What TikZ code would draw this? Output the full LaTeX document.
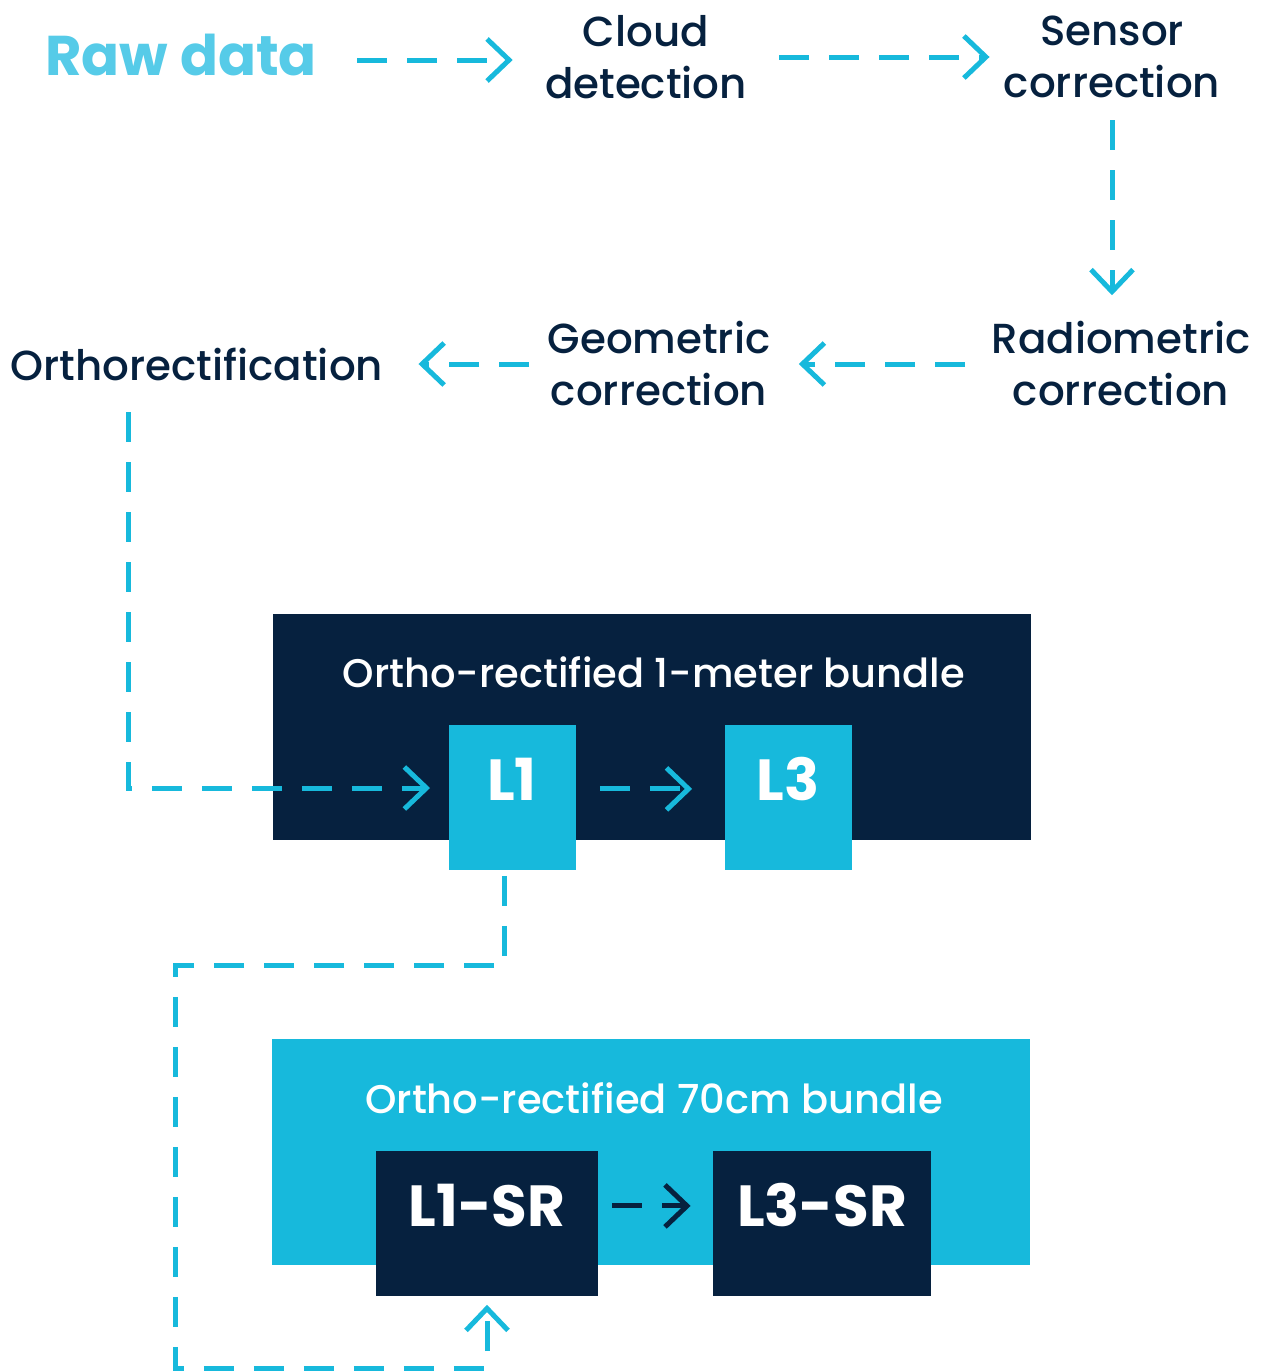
\documentclass[tikz,border=0pt]{standalone}
\usepackage{fontspec}
\setmainfont{Poppins}[UprightFont=* Medium,BoldFont=* Bold]
\usetikzlibrary{arrows.meta,positioning}
\definecolor{NavyBlue}{HTML}{06213F}
\definecolor{FlowCyan}{HTML}{17B9DC}
\definecolor{RawCyan}{HTML}{56CBE8}
\tikzset{
  steplabel/.style={text=NavyBlue,align=center,font=\fontsize{21}{26}\selectfont,inner sep=0pt},
  flowarrow/.style={-{Straight Barb[length=11pt,width=21pt,line width=2.5pt]},
    line width=2.5pt,draw=FlowCyan,dash pattern=on 15pt off 10pt},
  bundlebox/.style={minimum width=379pt,minimum height=113pt,inner sep=0pt},
  levelbox/.style={inner sep=0pt,text=white,text height=37.5pt,text depth=35pt,
    font=\bfseries\fontsize{29}{32}\selectfont,anchor=north},
}

\begin{document}
\begin{tikzpicture}[x=0.5pt,y=-0.5pt]
  \useasboundingbox (0,0) rectangle (1263,1371);
  % first row
  \node[text=RawCyan,font=\bfseries\fontsize{28}{32}\selectfont,inner sep=0pt] (raw) at (181,55) {Raw data};
  \node[steplabel] (cloud) at (646,57) {Cloud\\detection};
  \node[steplabel] (sensor) at (1112,57) {Sensor\\correction};
  % second row
  \node[steplabel] (radio) at (1121,364) {Radiometric\\correction};
  \node[steplabel] (geo) at (659,364) {Geometric\\correction};
  \node[steplabel] (ortho) at (197,364) {Orthorectification};
  % bundles
  \node[bundlebox,fill=NavyBlue,anchor=north west] (meter) at (273,614) {};
  \node[text=white,font=\fontsize{20}{24}\selectfont] (metertitle) at (654,672) {Ortho-rectified 1-meter bundle};
  \node[levelbox,fill=FlowCyan,minimum width=63.5pt] (l1) at (512,725) {L1};
  \node[levelbox,fill=FlowCyan,minimum width=63.5pt] (l3) at (788,725) {L3};
  \node[bundlebox,fill=FlowCyan,anchor=north west] (seventy) at (272,1039) {};
  \node[text=white,font=\fontsize{20}{24}\selectfont] (seventytitle) at (654,1098) {Ortho-rectified 70cm bundle};
  \node[levelbox,fill=NavyBlue,minimum width=111pt] (l1sr) at (487,1151) {L1-SR};
  \node[levelbox,fill=NavyBlue,minimum width=109pt] (l3sr) at (822,1151) {L3-SR};
  % connectors
  \coordinate (orthotop) at (128,412);
  \coordinate (l1in) at (430,788);
  \draw[flowarrow] ([xshift=20pt,yshift=-2.5pt]raw.east) -- ([xshift=-16pt,yshift=-1.5pt]cloud.west);
  \draw[flowarrow] ([xshift=16pt]cloud.east) -- ([xshift=-7pt]sensor.west);
  \draw[flowarrow] ([yshift=-11pt]sensor.south) -- ([yshift=13pt]radio.north -| sensor);
  \draw[flowarrow] ([xshift=-13pt]radio.west) -- ([xshift=14pt]geo.east);
  \draw[flowarrow] ([xshift=-9pt]geo.west) -- ([xshift=17.5pt]ortho.east);
  \draw[flowarrow] (orthotop) |- (l1in);
  \draw[flowarrow] ([xshift=12pt,yshift=4.5pt]l1.east) -- ([xshift=-16pt,yshift=4.5pt]l3.west);
  \draw[flowarrow,draw=NavyBlue] ([xshift=7pt,yshift=9pt]l1sr.east) -- ([xshift=-11pt,yshift=9pt]l3sr.west);
  \draw[flowarrow] ([xshift=-4pt,yshift=-2.5pt]l1.south) -- ++(0,90) -| (175,1368) -| ([yshift=-4pt]l1sr.south);
\end{tikzpicture}
\end{document}
